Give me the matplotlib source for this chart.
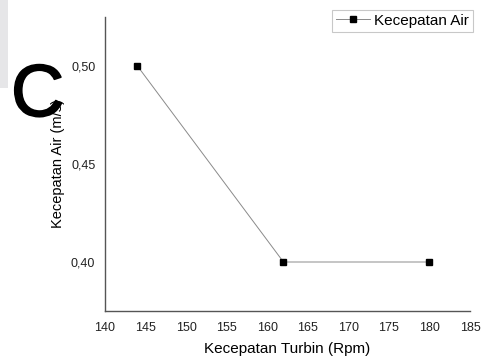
import matplotlib
matplotlib.use("Agg")
import matplotlib.pyplot as plt
import matplotlib.patheffects as pe
from matplotlib.patches import Rectangle

# data
rpm = [144, 162, 180]
kecepatan_air = [0.50, 0.40, 0.40]
xticks = [140, 145, 150, 155, 160, 165, 170, 175, 180, 185]
yticks = [0.40, 0.45, 0.50]
ytick_labels = ["0,40", "0,45", "0,50"]

plt.rcParams['font.family'] = ['Liberation Sans', 'DejaVu Sans']

fig = plt.figure(figsize=(4.83, 3.56), dpi=100)
ax = fig.add_axes([105/483, 1-311/356, 365/483, 294/356])

ax.plot(rpm, kecepatan_air, color='#8a8a8a', lw=0.7, marker='s', markersize=4.5,
        markerfacecolor='black', markeredgecolor='black', label='Kecepatan Air')

ax.set_xlim(140, 185)
ax.set_ylim(0.375, 0.525)
ax.set_xticks(xticks)
ax.set_yticks(yticks)
ax.set_yticklabels(ytick_labels)
ax.tick_params(length=0, labelsize=9, colors='#222222')
ax.tick_params(axis='y', pad=7)
ax.tick_params(axis='x', pad=8)

for s in ['top', 'right']:
    ax.spines[s].set_visible(False)
for s in ['left', 'bottom']:
    ax.spines[s].set_color('#555555')
    ax.spines[s].set_linewidth(1.0)

ax.set_xlabel('Kecepatan Turbin (Rpm)', fontsize=11, labelpad=6)
ax.set_ylabel('Kecepatan Air (m/s)', fontsize=10.5, labelpad=4)

leg = ax.legend(loc='upper right', bbox_to_anchor=(1.008, 1.024), fontsize=11,
                frameon=True, fancybox=False, handlelength=2.2, borderpad=0.25,
                handletextpad=0.3, borderaxespad=0.0)
leg.get_frame().set_edgecolor('#bbbbbb')
leg.get_frame().set_linewidth(0.8)

# gray strip and big letter at top-left
fig.patches.append(Rectangle((0, 1-88/356), 8/483, 88/356, transform=fig.transFigure,
                             facecolor='#e6e6e8', edgecolor='none'))
fig.text(11/483, 1-116/356, 'C', fontsize=53, color='black', ha='left', va='baseline',
         path_effects=[pe.withStroke(linewidth=1.2, foreground='black')])

fig.savefig('out.png', dpi=100)
